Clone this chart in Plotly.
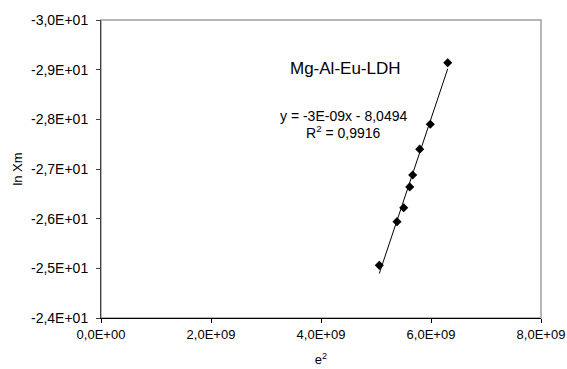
import numpy as np
import plotly.graph_objects as go

# data
e2 = [5.06e9, 5.382e9, 5.504e9, 5.613e9, 5.667e9, 5.795e9, 5.987e9, 6.304e9]
ln_xm = [-25.06, -25.94, -26.22, -26.64, -26.88, -27.40, -27.90, -29.14]

x_tickvals = [0, 2e9, 4e9, 6e9, 8e9]
x_ticktext = ["0,0E+00", "2,0E+09", "4,0E+09", "6,0E+09", "8,0E+09"]
y_tickvals = [-30, -29, -28, -27, -26, -25, -24]
y_ticktext = ["-3,0E+01", "-2,9E+01", "-2,8E+01", "-2,7E+01", "-2,6E+01", "-2,5E+01", "-2,4E+01"]

title_text = "Mg-Al-Eu-LDH"
eq_line1 = "y = -3E-09x - 8,0494"
eq_line2 = "R<sup>2</sup> = 0,9916"

slope, intercept = np.polyfit(e2, ln_xm, 1)
fit_x = [min(e2), max(e2)]
fit_y = [slope * v + intercept for v in fit_x]

FONT = "Arial, Liberation Sans, sans-serif"

fig = go.Figure()
fig.add_trace(go.Scatter(x=fit_x, y=fit_y, mode="lines",
                         line=dict(color="black", width=1), showlegend=False))
fig.add_trace(go.Scatter(x=e2, y=ln_xm, mode="markers",
                         marker=dict(symbol="diamond", color="black", size=7),
                         showlegend=False))

fig.add_shape(type="rect", xref="paper", yref="paper", x0=0, y0=0, x1=1, y1=1,
              line=dict(color="#a0a0a0", width=1.5), layer="below")

fig.add_annotation(x=4.44e9, y=-29.03, text=title_text, showarrow=False,
                   xanchor="center", yanchor="middle",
                   font=dict(family=FONT, size=17, color="black"))
fig.add_annotation(x=4.4e9, y=-28.06, text=eq_line1, showarrow=False,
                   xanchor="center", yanchor="middle",
                   font=dict(family=FONT, size=14, color="black"))
fig.add_annotation(x=4.4e9, y=-27.74, text=eq_line2, showarrow=False,
                   xanchor="center", yanchor="middle",
                   font=dict(family=FONT, size=14, color="black"))

fig.update_layout(
    width=567, height=369,
    margin=dict(l=101, r=26, t=20, b=51),
    plot_bgcolor="white", paper_bgcolor="white",
    font=dict(family=FONT, size=14, color="black"),
    xaxis=dict(range=[0, 8e9], tickvals=x_tickvals, ticktext=x_ticktext,
               automargin=False, tickfont=dict(size=13),
               showgrid=False, zeroline=False, showline=True,
               linecolor="black", linewidth=1, ticks="outside", ticklen=4,
               tickcolor="black",
               title=dict(text="e<sup>2</sup>", font=dict(size=13), standoff=14)),
    yaxis=dict(range=[-24, -30], tickvals=y_tickvals, ticktext=y_ticktext,
               automargin=False, ticklabelstandoff=5,
               showgrid=False, zeroline=False, showline=True,
               linecolor="#404040", linewidth=1, ticks="outside", ticklen=4,
               tickcolor="#404040",
               title=dict(text="ln Xm", font=dict(size=13), standoff=5)),
)

fig.write_html("out.html")
